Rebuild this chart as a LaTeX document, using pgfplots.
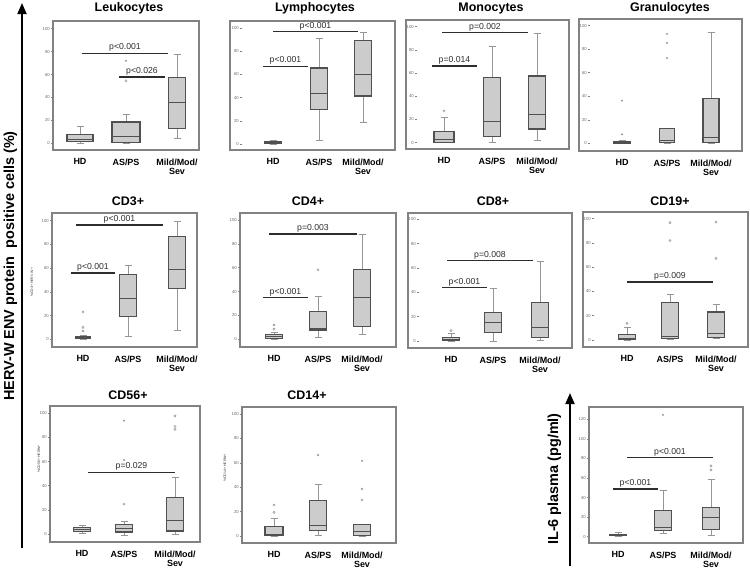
\documentclass[border=0pt]{standalone}
\usepackage{fontspec}
\setmainfont{Liberation Sans}
\usepackage{pgfplots}
\pgfplotsset{compat=1.18}
\usepgfplotslibrary{statistics}
\usetikzlibrary{arrows.meta}
\definecolor{boxfill}{RGB}{204,204,204}
\definecolor{boxline}{RGB}{80,80,80}
\definecolor{whisk}{RGB}{150,150,150}
\definecolor{framec}{RGB}{130,130,130}
\definecolor{barc}{RGB}{45,45,45}
\pgfplotsset{
  panel/.style={scale only axis, anchor=south west, clip=false,
    axis line style={draw=framec, line width=1.3pt},
    ytick=\empty, xtick style={draw=none},
    xticklabel style={font=\fontsize{9}{10}\selectfont\bfseries, align=center, yshift=-5bp},
    xticklabels={HD,AS/PS,Mild/Mod/\\Sev},
    boxplot/draw direction=y},
}
\newcommand\bx[7]{\addplot[draw=boxline, fill=boxfill, line width=1.1pt,
  boxplot/every whisker/.style={draw=whisk, line width=0.8pt},
  boxplot/every median/.style={draw=boxline, line width=1pt},
  boxplot prepared={draw position=#1, box extend=#2, whisker extend=7,
   lower whisker=#3, lower quartile=#4, median=#5, upper quartile=#6, upper whisker=#7}] coordinates {};}
\newcommand\oc[1]{\addplot[only marks, mark=o, mark size=1.1pt, draw=whisk, line width=0.5pt] coordinates {#1};}
\newcommand\os[1]{\addplot[only marks, mark=asterisk, mark size=1.1pt, draw=whisk, line width=0.4pt] coordinates {#1};}
\newcommand\sig[4]{\addplot[barc, line width=1.5pt] coordinates {(#2,#1) (#3,#1)} node[pos=0.5, anchor=south, inner sep=0.8pt, font=\fontsize{8.7}{9}\selectfont, text=barc] {#4};}
\newcommand\yt[2]{\pgfplotsinvokeforeach{#2}{\draw[framec, line width=0.5pt] (axis cs:#1,##1) -- ++(-2.5bp,0bp) node[anchor=east, inner sep=0.4pt, font=\fontsize{4.3}{4.5}\selectfont, text=framec!80!black] {##1};}}
\begin{document}
\begin{tikzpicture}
\useasboundingbox (0,0) rectangle (750bp,-569bp);
% ---------- Row 1 ----------
\begin{axis}[panel, at={(53bp,-150bp)}, width=146bp, height=129bp, xmin=53, xmax=199, ymin=-5.85, ymax=106.7, xtick={80,126,177}]
\yt{53}{0,20,40,60,80,100}
\bx{80}{26}{0}{1.7}{3.5}{7.6}{15}
\bx{126}{28}{0}{0.9}{5.8}{18.6}{25.3}
\bx{177}{17}{4.7}{13}{35.8}{57.8}{77.6}
\oc{(126,54.6)} \os{(126,72)}
\sig{78.5}{82}{168}{p<0.001}
\sig{58}{119}{165}{p<0.026}
\end{axis}
\begin{axis}[panel, at={(230bp,-150bp)}, width=165bp, height=129bp, xmin=230, xmax=395, ymin=-5.17, ymax=106, xtick={273,319,363}]
\yt{242}{0,20,40,60,80,100}
\bx{273}{17}{0}{0.3}{1}{1.7}{3}
\bx{319}{17}{3.2}{29.9}{43.7}{65.5}{91}
\bx{363}{17}{19}{41.4}{60.3}{89}{96}
\sig{67}{263}{308}{p<0.001}
\sig{96.8}{273}{358}{p<0.001}
\end{axis}
\begin{axis}[panel, at={(406bp,-149bp)}, width=163bp, height=129bp, xmin=406, xmax=569, ymin=-5.43, ymax=105.8, xtick={444,492,537}]
\yt{417}{0,20,40,60,80,100}
\bx{444}{20}{0}{0}{2.6}{9.8}{22}
\bx{492}{17}{0}{5.7}{18}{56.6}{83}
\bx{537}{17}{1.7}{11.8}{24.4}{57.5}{94}
\oc{(444,27.3)}
\sig{66}{432}{477}{p=0.014}
\sig{95}{442}{528}{p=0.002}
\end{axis}
\begin{axis}[panel, at={(579bp,-151bp)}, width=163bp, height=132bp, xmin=579, xmax=742, ymin=-6.55, ymax=105.7, xtick={622,667,711}]
\yt{590}{0,20,40,60,80,100}
\bx{622}{16}{0}{0}{0.8}{1.7}{2.8}
\bx{667}{15}{0}{0.6}{2}{12.7}{12.7}
\bx{711}{16}{0}{0.6}{5.1}{38.2}{94.6}
\os{(622,7.6) (622,36.3) (667,72.5) (667,85.3) (667,93)}
\end{axis}
% ---------- Row 2 ----------
\begin{axis}[panel, at={(52bp,-347bp)}, width=145bp, height=134bp, xmin=52, xmax=197, ymin=-6.5, ymax=106.5, xtick={83,128,177}]
\yt{52}{0,20,40,60,80,100}
\bx{83}{15}{0}{0.6}{1.1}{2.3}{3.4}
\bx{128}{17}{2.3}{19.3}{34.8}{54.4}{62}
\bx{177}{17}{7.4}{42.5}{58.9}{86.7}{99}
\oc{(83,7) (83,10) (83,23)}
\sig{56}{71}{115}{p<0.001}
\sig{96.3}{76}{163}{p<0.001}
\end{axis}
\begin{axis}[panel, at={(240bp,-347bp)}, width=156bp, height=134bp, xmin=240, xmax=396, ymin=-6.45, ymax=105.9, xtick={274,318,362}]
\yt{240}{0,20,40,60,80,100}
\bx{274}{17}{0}{0.6}{2.2}{4.2}{6.1}
\bx{318}{17}{1.4}{7.8}{9.2}{23.6}{36}
\bx{362}{17}{3.9}{10.6}{35}{58.9}{88}
\oc{(274,8.5) (274,12) (318,58.3)}
\sig{35}{263}{308}{p<0.001}
\sig{88.3}{269}{357}{p=0.003}
\end{axis}
\begin{axis}[panel, at={(408bp,-348bp)}, width=164bp, height=135bp, xmin=408, xmax=572, ymin=-5.75, ymax=105.2, xtick={451,493,540}]
\yt{419}{0,20,40,60,80,100}
\bx{451}{17}{0}{0.5}{1.6}{3}{6.3}
\bx{493}{17}{0}{7.1}{15.3}{23.6}{43.3}
\bx{540}{17}{0.8}{3}{11.2}{32}{65.2}
\oc{(451,8.5)}
\sig{44.1}{442}{487}{p<0.001}
\sig{66}{447}{533}{p=0.008}
\end{axis}
\begin{axis}[panel, at={(583bp,-347bp)}, width=165bp, height=135bp, xmin=583, xmax=748, ymin=-5.77, ymax=105.5, xtick={627,670,716}]
\yt{594}{0,20,40,60,80,100}
\bx{627}{17}{0}{0.5}{1.1}{4.9}{10.4}
\bx{670}{17}{0.5}{1.1}{2.7}{30.8}{37.6}
\bx{716}{17}{1.1}{2.2}{5.5}{23.1}{29.4}
\oc{(627,13.7) (670,82) (670,96.7) (716,67.3) (716,97.3)}
\sig{47.8}{627}{713}{p=0.009}
\end{axis}
% ---------- Row 3 ----------
\begin{axis}[panel, at={(50bp,-542bp)}, width=150bp, height=136bp, xmin=50, xmax=200, ymin=-6.6, ymax=106, xtick={82,124,175}]
\yt{50}{0,20,40,60,80,100}
\bx{82}{17}{0.3}{1.9}{3.9}{5.5}{7.2}
\bx{124}{17}{-1.4}{1.7}{4.7}{8}{10.2}
\bx{175}{17}{0}{2.5}{11}{30.4}{47}
\oc{(124,24.9) (175,86.7) (175,89) (175,97.8)}
\os{(124,61.3) (124,93.9)}
\sig{51.1}{88}{175}{p=0.029}
\end{axis}
\begin{axis}[panel, at={(242bp,-543bp)}, width=154bp, height=136bp, xmin=242, xmax=396, ymin=-5.7, ymax=105.7, xtick={274,318,362}]
\yt{242}{0,20,40,60,80,100}
\bx{274}{18}{0}{0.3}{1.1}{7.7}{14.5}
\bx{318}{17}{0.3}{4.9}{8.7}{29}{42.6}
\bx{362}{17}{0}{0.8}{3.8}{9.8}{9.8}
\oc{(274,19.4) (274,25.4) (318,66.4) (362,29.5) (362,38.5)}
\os{(362,61.5)}
\end{axis}
\begin{axis}[panel, at={(589bp,-543bp)}, width=154bp, height=136bp, xmin=589, xmax=743, ymin=-6.4, ymax=132.6, xtick={618,663,711}]
\yt{589}{0,20,40,60,80,100,120}
\bx{618}{17}{0.7}{1}{1.7}{2.4}{4.1}
\bx{663}{17}{3.4}{6.1}{9.6}{27}{47.8}
\bx{711}{17}{1.7}{7.2}{19.8}{29.7}{58.7}
\os{(663,124.6)}
\oc{(711,68.3) (711,72.4)}
\sig{48.8}{613}{658}{p<0.001}
\sig{80.9}{627}{713}{p<0.001}
\end{axis}
% ---------- Titles ----------
\begin{scope}[every node/.style={anchor=base, font=\fontsize{12.5}{14}\selectfont\bfseries}]
\node at (129bp,-11bp) {Leukocytes};
\node at (315bp,-11bp) {Lymphocytes};
\node at (491bp,-11bp) {Monocytes};
\node at (670bp,-11bp) {Granulocytes};
\node at (128bp,-205bp) {CD3+};
\node at (308bp,-205bp) {CD4+};
\node at (493bp,-205bp) {CD8+};
\node at (670bp,-205bp) {CD19+};
\node at (128bp,-399bp) {CD56+};
\node at (307bp,-399bp) {CD14+};
\end{scope}
% ---------- small axis titles ----------
\begin{scope}[every node/.style={rotate=90, font=\fontsize{3.5}{4}\selectfont, text=black!80}]
\node at (32bp,-282bp) {\%CD3+ HERV W +};
\node at (39bp,-459bp) {\%CD56+ HERW+};
\node at (225bp,-468bp) {\%CD14+ HERW+};
\end{scope}
% ---------- big axis labels and arrows ----------
\draw[line width=1.8pt, -{Triangle[width=9bp,length=11bp]}] (22bp,-548bp) -- (22bp,-3bp);
\node[rotate=90, font=\fontsize{14.5}{16}\selectfont\bfseries] at (10.5bp,-266bp) {HERV-W ENV protein\ \ positive cells (\%)};
\draw[line width=1.8pt, -{Triangle[width=9bp,length=11bp]}] (570bp,-566bp) -- (570bp,-393bp);
\node[rotate=90, font=\fontsize{14.5}{16}\selectfont\bfseries] at (554.5bp,-479bp) {IL-6 plasma (pg/ml)};
\end{tikzpicture}
\end{document}
